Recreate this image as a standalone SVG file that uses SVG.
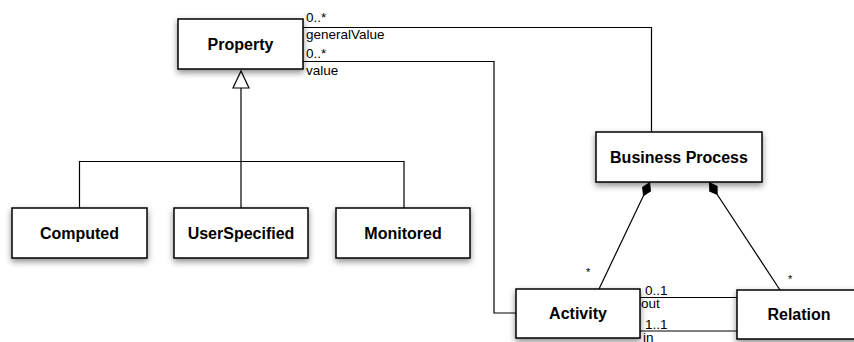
<svg xmlns="http://www.w3.org/2000/svg" width="854" height="342" viewBox="0 0 854 342">
  <style>
    .box { fill: #ffffff; stroke: #000000; stroke-width: 1.5; filter: url(#shadow); }
    .name { font-family: "Liberation Sans", Arial, sans-serif; font-weight: bold; font-size: 16px; fill: #000000; text-anchor: middle; }
    .lbl { font-family: "Liberation Sans", Arial, sans-serif; font-size: 13.5px; fill: #000000; }
    .star { font-family: "Liberation Sans", Arial, sans-serif; font-size: 11px; fill: #000000; }
    .line { fill: none; stroke: #000000; stroke-width: 1.2; }
  </style>
  <defs>
    <filter id="shadow" x="-20%" y="-30%" width="140%" height="170%">
      <feDropShadow dx="0" dy="3" stdDeviation="3" flood-color="#000000" flood-opacity="0.45"/>
    </filter>
    <marker id="diamond" markerUnits="userSpaceOnUse" markerWidth="18" markerHeight="12" refX="0" refY="6" orient="auto" viewBox="0 0 18 12">
      <path d="M0,6 L8,1 L16,6 L8,11 Z" fill="#000000"/>
    </marker>
  </defs>
  <rect width="854" height="342" fill="#ffffff"/>

  <g id="connectors">
    <path class="line" d="M303,27.5 H651.5 V132"/>
    <path class="line" d="M303,61.5 H494 V313 H516"/>
    <polygon points="241,71 233,88 249,88" fill="#ffffff" stroke="#000000" stroke-width="1.2"/>
    <path class="line" d="M241,88 V208"/>
    <path class="line" d="M79.5,208 V161.5 H404 V208"/>
    <path class="line" d="M650,182 L599,289" marker-start="url(#diamond)"/>
    <path class="line" d="M709,182 L780,290" marker-start="url(#diamond)"/>
    <path class="line" d="M640,297.5 H737"/>
    <path class="line" d="M640,331 H737"/>
  </g>

  <g id="labels">
    <text class="lbl" x="306" y="22">0..*</text>
    <text class="lbl" x="306" y="38.5">generalValue</text>
    <text class="lbl" x="306" y="58">0..*</text>
    <text class="lbl" x="306" y="75">value</text>
    <text class="lbl" x="645" y="295">0..1</text>
    <text class="lbl" x="641" y="307.5">out</text>
    <text class="lbl" x="645" y="328.5">1..1</text>
    <text class="lbl" x="643" y="341.5">in</text>
    <text class="star" x="586" y="276">*</text>
    <text class="star" x="788" y="283">*</text>
  </g>

  <g id="property">
    <rect class="box" x="178" y="19" width="125" height="50"/>
    <text class="name" x="240.5" y="50">Property</text>
  </g>
  <g id="computed">
    <rect class="box" x="12" y="208" width="135" height="50"/>
    <text class="name" x="79.5" y="239">Computed</text>
  </g>
  <g id="userspecified">
    <rect class="box" x="174" y="208" width="134" height="50"/>
    <text class="name" x="241" y="239">UserSpecified</text>
  </g>
  <g id="monitored">
    <rect class="box" x="336" y="208" width="134" height="50"/>
    <text class="name" x="403" y="239">Monitored</text>
  </g>
  <g id="business-process">
    <rect class="box" x="596" y="132" width="166" height="50"/>
    <text class="name" x="679" y="163">Business Process</text>
  </g>
  <g id="activity">
    <rect class="box" x="516" y="289" width="124" height="49"/>
    <text class="name" x="578" y="319">Activity</text>
  </g>
  <g id="relation">
    <rect class="box" x="737" y="290" width="125" height="49"/>
    <text class="name" x="799" y="320">Relation</text>
  </g>
</svg>
